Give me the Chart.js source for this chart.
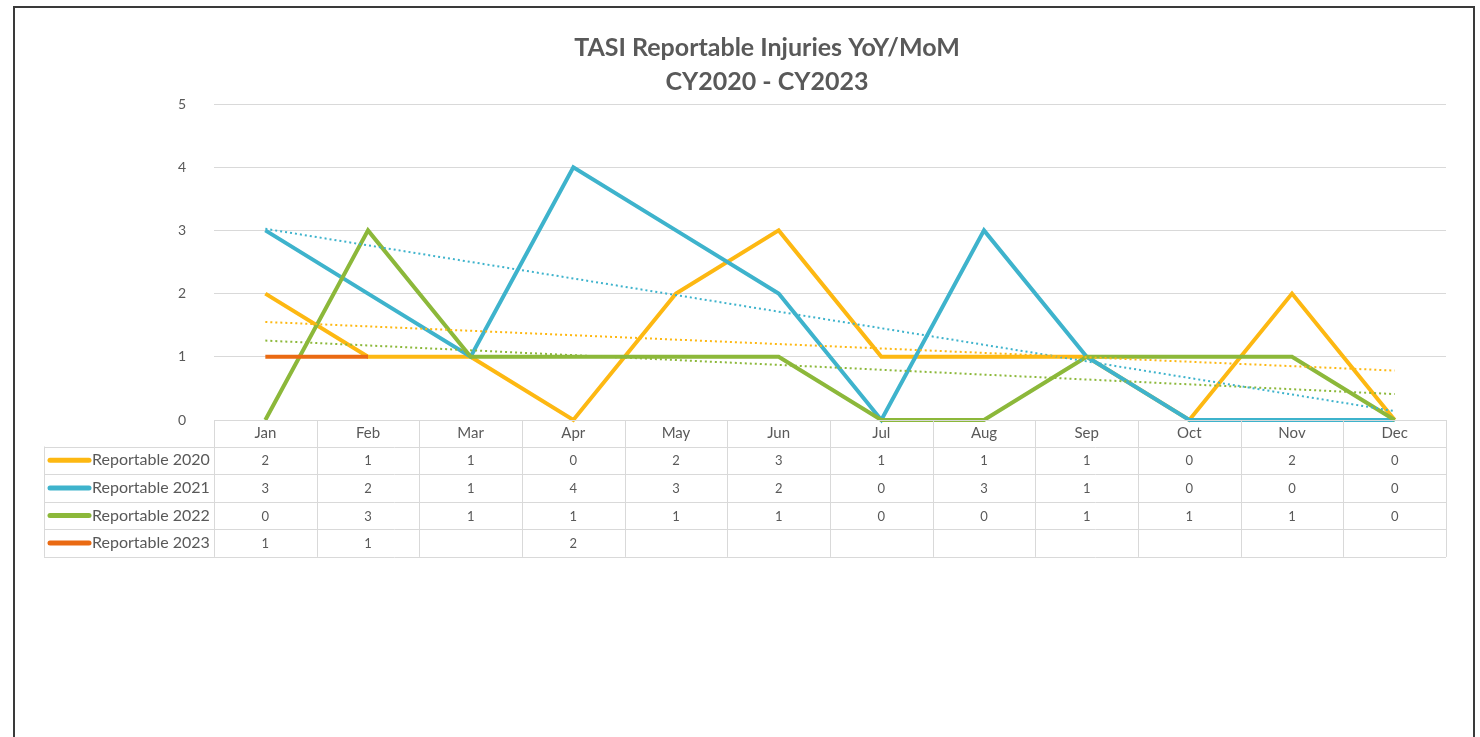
<!DOCTYPE html>
<html>
<head>
<meta charset="utf-8">
<title>TASI Reportable Injuries YoY/MoM</title>
<script src="https://cdn.jsdelivr.net/npm/chart.js@4.4.1/dist/chart.umd.min.js"></script>
<style>
  html, body { margin: 0; padding: 0; background: #fff; overflow: hidden; }
  #frame { position: absolute; left: 13px; top: 6px; width: 1458px; height: 760px; border: 2px solid #3a3a3a; border-bottom: none; }
  #chart { position: absolute; left: 0; top: 0; }
</style>
</head>
<body>
<div id="frame"></div>
<canvas id="chart" width="1480" height="737"></canvas>
<script>
// Chart data
const months = ['Jan', 'Feb', 'Mar', 'Apr', 'May', 'Jun', 'Jul', 'Aug', 'Sep', 'Oct', 'Nov', 'Dec'];
const reportable2020 = [2, 1, 1, 0, 2, 3, 1, 1, 1, 0, 2, 0];
const reportable2021 = [3, 2, 1, 4, 3, 2, 0, 3, 1, 0, 0, 0];
const reportable2022 = [0, 3, 1, 1, 1, 1, 0, 0, 1, 1, 1, 0];
const reportable2023 = [1, 1, null, 2, null, null, null, null, null, null, null, null];
const seriesLabels = ['Reportable 2020', 'Reportable 2021', 'Reportable 2022', 'Reportable 2023'];
const yTicks = [0, 1, 2, 3, 4, 5];

(function () {
  'use strict';

  const COLOURS = ['#FDB812', '#3EB3CC', '#8CB83A', '#EA6A12'];
  const TEXT = '#595959';
  const GRID = '#d9d9d9';
  const FONT = 'Lato, "Open Sans", sans-serif';

  // Linear least-squares trendline, same as Excel's "Linear" trendline
  function trendOf(values) {
    const pts = values.map((v, i) => [i + 1, v]).filter(p => p[1] !== null);
    const n = pts.length;
    const mx = pts.reduce((s, p) => s + p[0], 0) / n;
    const my = pts.reduce((s, p) => s + p[1], 0) / n;
    let sxy = 0, sxx = 0;
    for (const [x, y] of pts) { sxy += (x - mx) * (y - my); sxx += (x - mx) * (x - mx); }
    const slope = sxy / sxx;
    return values.map((_, i) => my + slope * (i + 1 - mx));
  }

  const seriesData = [reportable2020, reportable2021, reportable2022, reportable2023];

  const datasets = seriesData.map((data, i) => ({
    label: seriesLabels[i],
    data,
    borderColor: COLOURS[i],
    backgroundColor: COLOURS[i],
    borderWidth: 4,
    pointRadius: 0,
    tension: 0,
    spanGaps: false,
    clip: false,
    order: 4 - i,
  }));

  // Trendlines for 2020-2022 (2023 has none)
  [0, 1, 2].forEach(i => {
    datasets.push({
      label: 'Linear (' + seriesLabels[i] + ')',
      data: trendOf(seriesData[i]),
      borderColor: COLOURS[i],
      borderWidth: 2,
      borderDash: [2, 3],
      pointRadius: 0,
      tension: 0,
      clip: false,
      order: 0,
    });
  });

  // ========================================================================
  // Data table under the plot, columns taken from the category scale
  // ========================================================================
  const tablePlugin = {
    id: 'dataTable',
    afterDraw(chart) {
      const { ctx, chartArea } = chart;
      const x = chart.scales.x;
      const step = x.getPixelForValue(1) - x.getPixelForValue(0);
      const left = chartArea.left;
      const right = chartArea.right;
      const top = chartArea.bottom;
      const headH = 26.5;
      const rowH = 27.6;
      const labelLeft = 44;
      const bottom = top + headH + rowH * seriesData.length;

      ctx.save();
      ctx.strokeStyle = GRID;
      ctx.lineWidth = 1;
      ctx.beginPath();
      ctx.moveTo(left, top + 0.5);
      ctx.lineTo(right, top + 0.5);
      for (let r = 0; r <= seriesData.length; r++) {
        const y = Math.round(top + headH + r * rowH) + 0.5;
        ctx.moveTo(labelLeft, y);
        ctx.lineTo(right, y);
      }
      for (let c = 0; c <= months.length; c++) {
        const xx = Math.round(left + c * step) + 0.5;
        ctx.moveTo(xx, top);
        ctx.lineTo(xx, bottom);
      }
      ctx.moveTo(labelLeft + 0.5, top + headH);
      ctx.lineTo(labelLeft + 0.5, bottom);
      ctx.stroke();

      ctx.fillStyle = TEXT;
      ctx.textBaseline = 'middle';
      ctx.textAlign = 'center';

      // Month header
      ctx.font = '15px ' + FONT;
      months.forEach((m, i) => {
        ctx.fillText(m, x.getPixelForValue(i), top + headH / 2);
      });

      // Series rows
      seriesData.forEach((data, r) => {
        const cy = top + headH + r * rowH + rowH / 2;

        ctx.strokeStyle = COLOURS[r];
        ctx.lineWidth = 5;
        ctx.lineCap = 'round';
        ctx.beginPath();
        ctx.moveTo(50, cy);
        ctx.lineTo(89, cy);
        ctx.stroke();

        ctx.textAlign = 'left';
        ctx.font = '16px ' + FONT;
        ctx.fillText(seriesLabels[r], 92, cy);

        ctx.textAlign = 'center';
        ctx.font = '13px ' + FONT;
        data.forEach((v, i) => {
          if (v !== null) ctx.fillText(String(v), x.getPixelForValue(i), cy + 1);
        });
      });
      ctx.restore();
    },
  };

  new Chart(document.getElementById('chart').getContext('2d'), {
    type: 'line',
    data: { labels: months, datasets },
    plugins: [tablePlugin],
    options: {
      responsive: false,
      animation: false,
      layout: { padding: { left: 88, right: 34, top: 0, bottom: 317 } },
      plugins: {
        legend: { display: false },
        tooltip: { enabled: false },
        title: {
          display: true,
          text: ['TASI Reportable Injuries YoY/MoM', 'CY2020 - CY2023'],
          color: TEXT,
          font: { family: FONT, size: 25, weight: 'bold', lineHeight: 1.36 },
          padding: { top: 31, bottom: 5 },
        },
      },
      scales: {
        x: {
          type: 'category',
          offset: true,
          grid: { display: false },
          border: { display: false },
          ticks: { display: false },
          afterFit(scale) { scale.height = 0; },
        },
        y: {
          min: yTicks[0],
          max: yTicks[yTicks.length - 1],
          afterBuildTicks(scale) { scale.ticks = yTicks.map(v => ({ value: v })); },
          grid: { color: GRID, drawTicks: false },
          border: { display: false },
          ticks: { color: TEXT, font: { family: FONT, size: 14 }, padding: 28 },
          afterFit(scale) { scale.width = 126; },
        },
      },
    },
  });
})();
</script>
</body>
</html>
